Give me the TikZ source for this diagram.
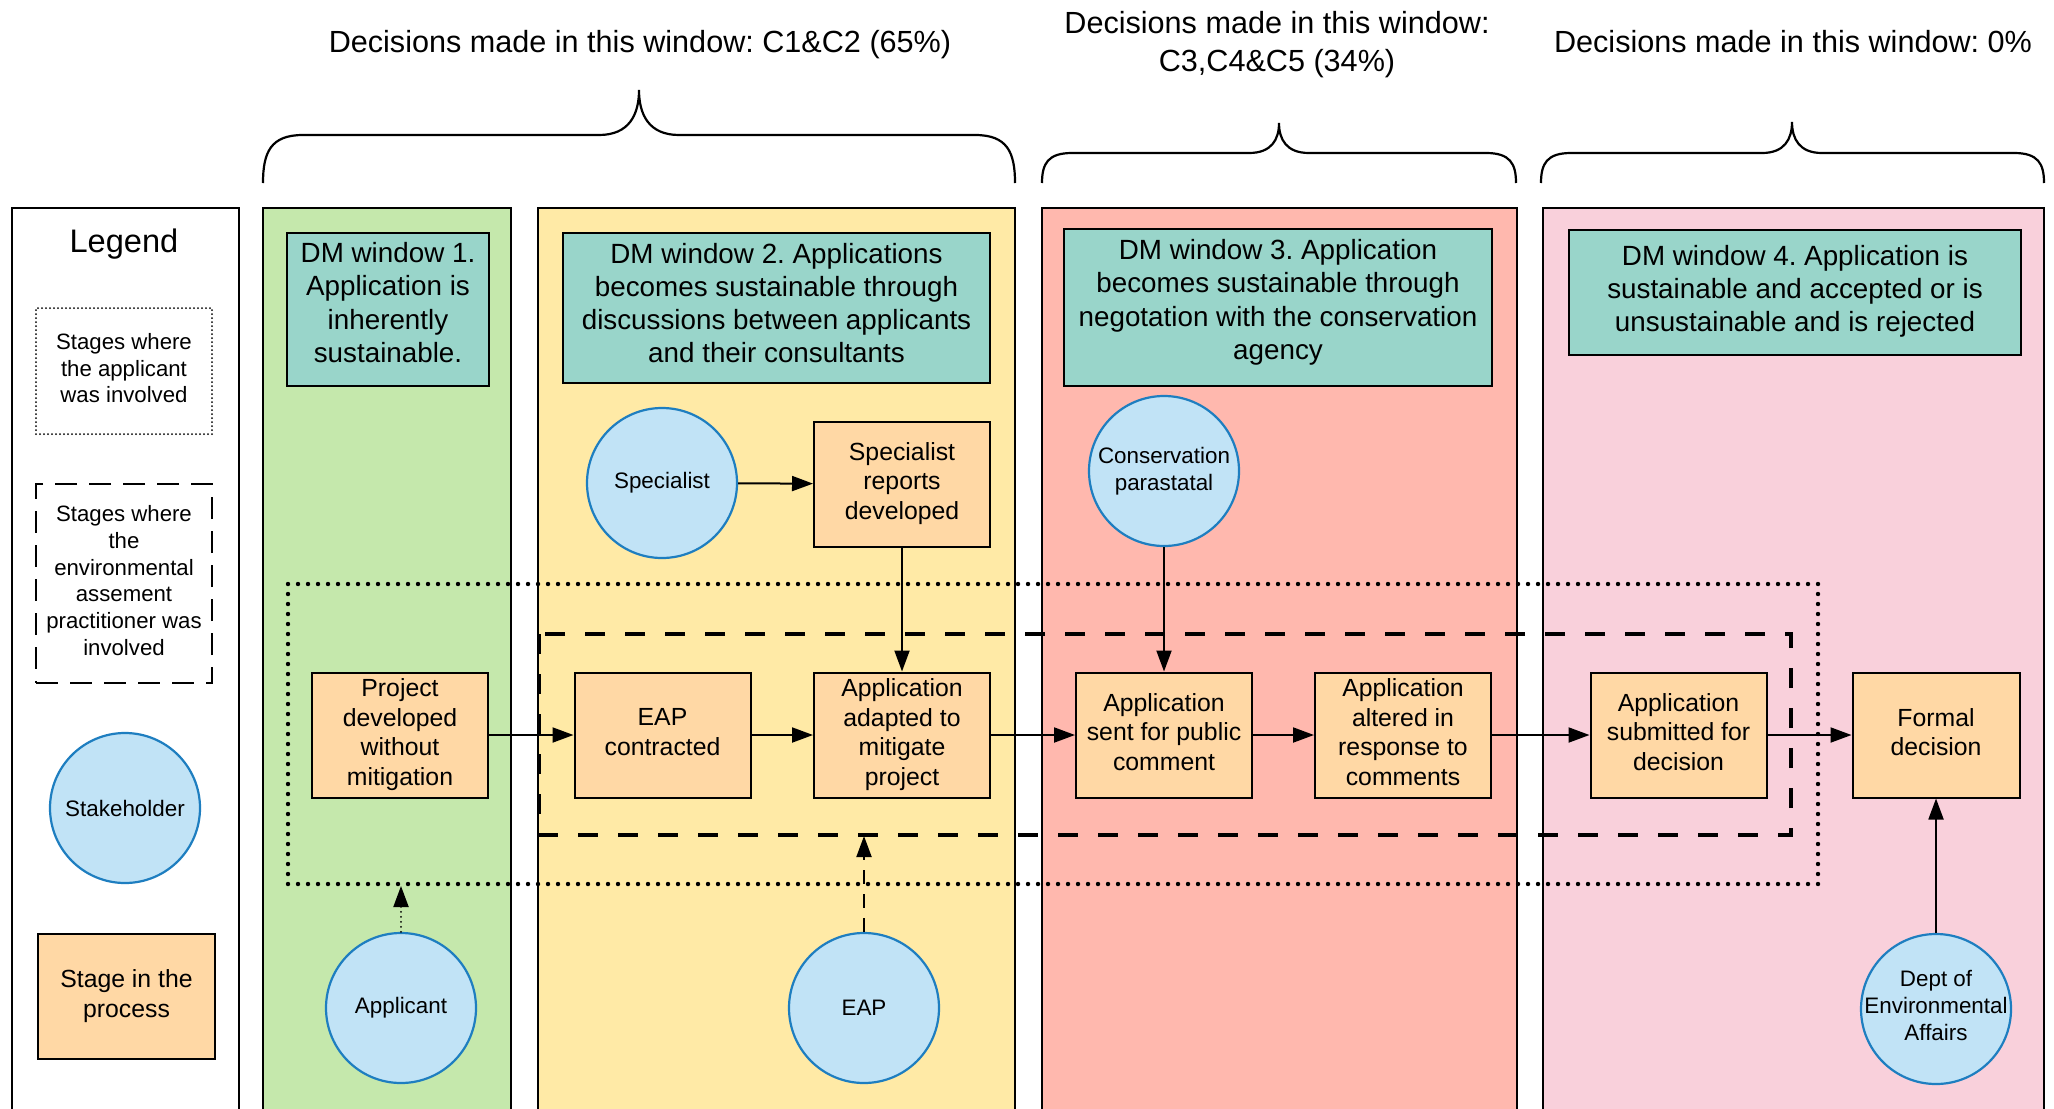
\documentclass[tikz,border=0pt]{standalone}
\usepackage{fontspec}
\setmainfont{Liberation Sans}
\usetikzlibrary{arrows.meta}

\definecolor{wgreen}{HTML}{C5E8AC}
\definecolor{wyellow}{HTML}{FFEAA6}
\definecolor{wred}{HTML}{FFB8AE}
\definecolor{wpink}{HTML}{F9D0DB}
\definecolor{dmteal}{HTML}{99D5CA}
\definecolor{stagefill}{HTML}{FFD8A5}
\definecolor{holderfill}{HTML}{C1E3F6}
\definecolor{holderline}{HTML}{1E7EC0}

\tikzset{
  panel/.style={draw=black, line width=1.2pt},
  dmbox/.style={draw, line width=1pt, fill=dmteal, align=center, inner sep=0pt,
    font=\fontsize{13.9}{16.6}\selectfont},
  stage/.style={draw, line width=1pt, fill=stagefill, minimum width=88pt,
    minimum height=62.5pt, align=center, inner sep=0pt, text depth=3pt,
    font=\fontsize{12.4}{14.85}\selectfont},
  holder/.style={circle, draw=holderline, line width=1.1pt, fill=holderfill,
    minimum size=75pt, inner sep=-1pt, align=center,
    font=\fontsize{11.2}{13.5}\selectfont},
  legendtext/.style={align=center, inner sep=0pt, minimum width=88pt, text depth=3pt,
    font=\fontsize{11.1}{13.4}\selectfont},
  flow/.style={-{Triangle[length=10.5pt,width=7.5pt]}, line width=1pt},
  brace/.style={line width=1.1pt},
  heading/.style={align=center, font=\fontsize{15.3}{19}\selectfont},
  applicantzone/.style={line width=2.2pt, line cap=round, dash pattern=on 0pt off 5pt},
  eapzone/.style={line width=2pt, dash pattern=on 10pt off 10pt},
}

% curly brace over a window: x-left, x-right, x-tip, y-tip, y-flat, y-ends, end radius
\newcommand\windowbrace[7]{%
  \draw[brace] (#1,#6) .. controls (#1,{#5+0.35*(#6-#5)}) and ({#1+0.2*#7},#5) .. ({#1+#7},#5)
    -- ({#3-#7},#5) .. controls ({#3-0.25*#7},#5) and (#3,{#5-0.45*(#5-#4)}) .. (#3,#4)
    .. controls (#3,{#5-0.45*(#5-#4)}) and ({#3+0.25*#7},#5) .. ({#3+#7},#5)
    -- ({#2-#7},#5) .. controls ({#2-0.2*#7},#5) and (#2,{#5+0.35*(#6-#5)}) .. (#2,#6);}

\begin{document}
\frenchspacing
\begin{tikzpicture}[x=0.5pt, y=-0.5pt]
\useasboundingbox (0,0) rectangle (2054,1108);
\clip (0,0) rectangle (2054,1108);
\fill[white] (0,0) rectangle (2054,1108);

% legend column and the four decision-making windows
\draw[panel, fill=white]   (12,208)   rectangle (239,1130);
\draw[panel, fill=wgreen]  (263,208)  rectangle (511,1130);
\draw[panel, fill=wyellow] (538,208)  rectangle (1015,1130);
\draw[panel, fill=wred]    (1042,208) rectangle (1517,1130);
\draw[panel, fill=wpink]   (1543,208) rectangle (2044,1130);

% headings and braces
\node[heading] (h1) at (640,45) {Decisions made in this window: C1\&C2 (65\%)};
\node[heading] (h3) at (1277,45) {Decisions made in this window:\\C3,C4\&C5 (34\%)};
\node[heading] (h4) at (1793,42) {Decisions made in this window: 0\%};
\windowbrace{263}{1015}{639}{90}{135}{183}{40}
\windowbrace{1042}{1516}{1279}{123}{153}{183}{30}
\windowbrace{1541}{2044}{1792}{122}{153}{183}{30}

% legend
\node[font=\fontsize{16.3}{19}\selectfont] (legtitle) at (124,244) {Legend};
\node[legendtext, minimum height=63pt, draw, line width=1pt, line cap=round,
      dash pattern=on 0pt off 2pt] (legdot) at (124,371)
      {Stages where\\the applicant\\was involved};
\node[legendtext, minimum height=99.5pt, draw, line width=1pt,
      dash pattern=on 11pt off 6pt] (legdash) at (124,583.5)
      {Stages where\\the\\environmental\\assement\\practitioner was\\involved};
\node[holder] (legholder) at (125,808) {Stakeholder};
\node[stage, minimum width=88.5pt] (legstage) at (126.5,996.5) {Stage in the\\process};

% window descriptions
\node[dmbox, minimum width=101pt, minimum height=76.5pt, text depth=7pt] (dm1) at (388,309.5)
  {DM window 1.\\Application is\\inherently\\sustainable.};
\node[dmbox, minimum width=213.5pt, minimum height=75pt, text depth=5.2pt] (dm2) at (776.5,308)
  {DM window 2. Applications\\becomes sustainable through\\discussions between applicants\\and their consultants};
\node[dmbox, minimum width=214pt, minimum height=78.5pt, text depth=8pt] (dm3) at (1278,307.5)
  {DM window 3. Application\\becomes sustainable through\\negotation with the conservation\\agency};
\node[dmbox, minimum width=226pt, minimum height=62.5pt, text depth=3.9pt] (dm4) at (1795,292.5)
  {DM window 4. Application is\\sustainable and accepted or is\\unsustainable and is rejected};

% involvement zones
\draw[applicantzone] (288,584) rectangle (1818,884);
\draw[eapzone] (539,634) rectangle (1791,835);

% stages in the process
\node[stage] (project)   at (400,735)   {Project\\developed\\without\\mitigation};
\node[stage] (eapc)      at (662.5,735) {EAP\\contracted};
\node[stage] (adapted)   at (902,735)   {Application\\adapted to\\mitigate\\project};
\node[stage] (sent)      at (1164,735)  {Application\\sent for public\\comment};
\node[stage] (altered)   at (1403,735)  {Application\\altered in\\response to\\comments};
\node[stage] (submitted) at (1678.5,735) {Application\\submitted for\\decision};
\node[stage, minimum width=83.5pt] (formal) at (1936,735) {Formal\\decision};
\node[stage] (specrep)   at (902,484)   {Specialist\\reports\\developed};

% stakeholders
\node[holder] (specialist)   at (662,483)   {Specialist};
\node[holder] (conservation) at (1164,471)  {Conservation\\parastatal};
\node[holder] (applicant)    at (401,1008)  {Applicant};
\node[holder] (eap)          at (864,1008)  {EAP};
\node[holder, inner sep=-4pt, text depth=4pt] (dept) at (1936,1009) {Dept of\\Environmental\\Affairs};

\coordinate (applicantin) at (401,886);
\coordinate (eapin) at (864,836);

% flow of the process
\draw[flow] (project) -- (eapc);
\draw[flow] (eapc) -- (adapted);
\draw[flow] (adapted) -- (sent);
\draw[flow] (sent) -- (altered);
\draw[flow] (altered) -- (submitted);
\draw[flow] (submitted) -- (formal);
\draw[flow] (specialist) -- (specrep);
\draw[flow] (specrep) -- (adapted);
\draw[flow] (conservation) -- (sent);
\draw[flow] (dept) -- (formal);
\draw[flow, line width=1pt, line cap=round, dash pattern=on 0pt off 2.5pt] (applicant) -- (applicantin);
\draw[flow, dash pattern=on 7pt off 5pt] (eap) -- (eapin);
\end{tikzpicture}
\end{document}
